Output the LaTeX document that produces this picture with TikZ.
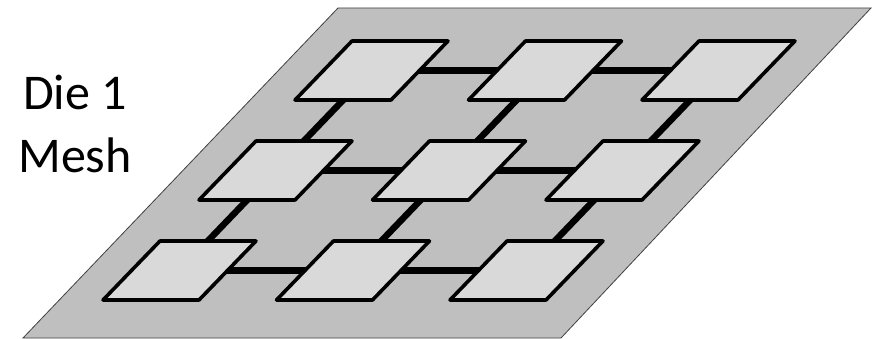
\documentclass[tikz,border=0pt]{standalone}
\usepackage{fontspec}
\setmainfont{Carlito}
\begin{document}
\begin{tikzpicture}[x=1pt,y=-1pt,
  diebg/.style={fill=dieGray,draw=black!75,line width=0.8pt},
  tilebox/.style={fill=tileGray,draw=black,line width=3.6pt,line join=round},
  link/.style={draw=black,line width=6.5pt},
  lbl/.style={font=\fontsize{50}{60}\selectfont,anchor=base,inner sep=0pt}]
\definecolor{dieGray}{HTML}{BFBFBF}
\definecolor{tileGray}{HTML}{D9D9D9}
\useasboundingbox (0,0) rectangle (876,339);
% die
\coordinate (d1) at (338,8);
\coordinate (d2) at (871,8);
\coordinate (d3) at (561,338);
\coordinate (d4) at (23,338);
\path[diebg] (d1) -- (d2) -- (d3) -- (d4) -- cycle;
% tile centres
\foreach \r in {0,1,2}{
  \foreach \c in {0,1,2}{
    \coordinate (t\r\c) at ({352+173.5*\c-96*\r+19.5},{41+100*\r+29.5});
  }
}
% links
\foreach \r in {0,1,2}{
  \draw[link] (t\r0) -- (t\r1);
  \draw[link] (t\r1) -- (t\r2);
}
\foreach \c in {0,1,2}{
  \draw[link] (t0\c) -- (t1\c);
  \draw[link] (t1\c) -- (t2\c);
}
% tiles
\foreach \r in {0,1,2}{
  \foreach \c in {0,1,2}{
    \path[tilebox] ([shift={(-19.5,-29.5)}]t\r\c) -- ++(96,0) -- ++(-57,59) -- ++(-96,0) -- cycle;
  }
}
% label
\node[lbl] (lab1) at (75,110) {Die 1};
\node[lbl] (lab2) at (75,173) {Mesh};
\end{tikzpicture}
\end{document}
